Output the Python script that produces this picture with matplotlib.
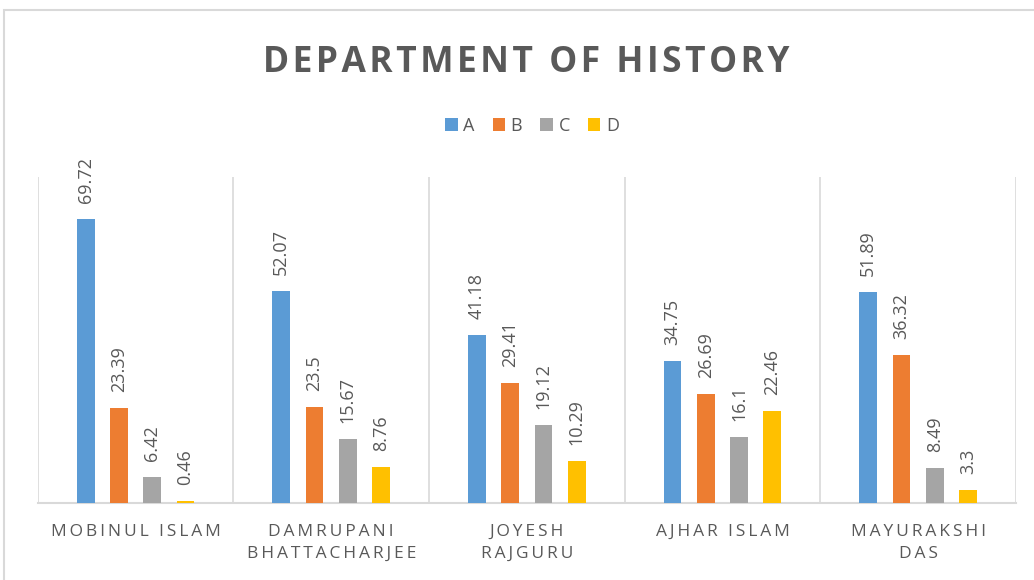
import matplotlib.pyplot as plt
from matplotlib.patches import Rectangle
import numpy as np

plt.rcParams['font.family'] = ['Open Sans', 'DejaVu Sans']

names = ['MOBINUL ISLAM', 'DAMRUPANI\nBHATTACHARJEE', 'JOYESH\nRAJGURU',
         'AJHAR ISLAM', 'MAYURAKSHI\nDAS']
series = ['A', 'B', 'C', 'D']
a_vals = [69.72, 52.07, 41.18, 34.75, 51.89]
b_vals = [23.39, 23.5, 29.41, 26.69, 36.32]
c_vals = [6.42, 15.67, 19.12, 16.1, 8.49]
d_vals = [0.46, 8.76, 10.29, 22.46, 3.3]
colors = ['#5B9BD5', '#ED7D31', '#A5A5A5', '#FFC000']

TXT = '#595959'
GRID = '#D9D9D9'


def spaced(s, sp='\u2009'):
    # fake letter spacing like the Excel chart
    return '\n'.join(sp.join(line) for line in s.split('\n'))


fig = plt.figure(figsize=(10.34, 5.8), dpi=100)
ax = fig.add_axes([0.0365, 0.1328, 0.946, 0.562])

# chart outer border (cut off at right/bottom in the original)
fig.patches.append(Rectangle((0.0039, -0.2), 1.2, 1.1828, transform=fig.transFigure,
                             fill=False, edgecolor=GRID, linewidth=1.5))

x = np.arange(len(names))
step = 0.170
width = 0.0905
for i, (lab, vals) in enumerate(zip(series, [a_vals, b_vals, c_vals, d_vals])):
    pos = x + (i - 1.5) * step
    ax.bar(pos, vals, width, color=colors[i], label=lab, zorder=3)
    for px, v in zip(pos, vals):
        ax.annotate(f'{v:g}', (px, v), xytext=(0, 11.5), textcoords='offset points',
                    rotation=90, ha='center', va='bottom', fontsize=13, color=TXT)

ax.set_xlim(-0.5, len(names) - 0.5)
ax.set_ylim(0, 80)
ax.set_yticks([])
for b in np.arange(-0.5, len(names), 1.0):
    ax.axvline(b, color=GRID, linewidth=1.2, zorder=1)
for s in ['top', 'left', 'right']:
    ax.spines[s].set_visible(False)
ax.spines['bottom'].set_color(GRID)
ax.spines['bottom'].set_linewidth(1.5)

ax.set_xticks(x)
ax.set_xticklabels([spaced(n) for n in names], fontsize=12.5, color=TXT, linespacing=1.5)
ax.tick_params(axis='x', length=0, pad=15)

fig.text(0.5087, 0.8764, spaced('DEPARTMENT OF HISTORY', '\u200a'), ha='center',
         va='baseline', fontsize=25.5, fontweight='bold', color=TXT)

handles, labels = ax.get_legend_handles_labels()
fig.legend(handles, labels, loc='center', bbox_to_anchor=(0.5145, 0.7828), ncol=4,
           frameon=False, fontsize=13, labelcolor=TXT, handlelength=0.7,
           handleheight=0.7, handletextpad=0.3, columnspacing=1.0)

fig.savefig('out.png', dpi=100)
